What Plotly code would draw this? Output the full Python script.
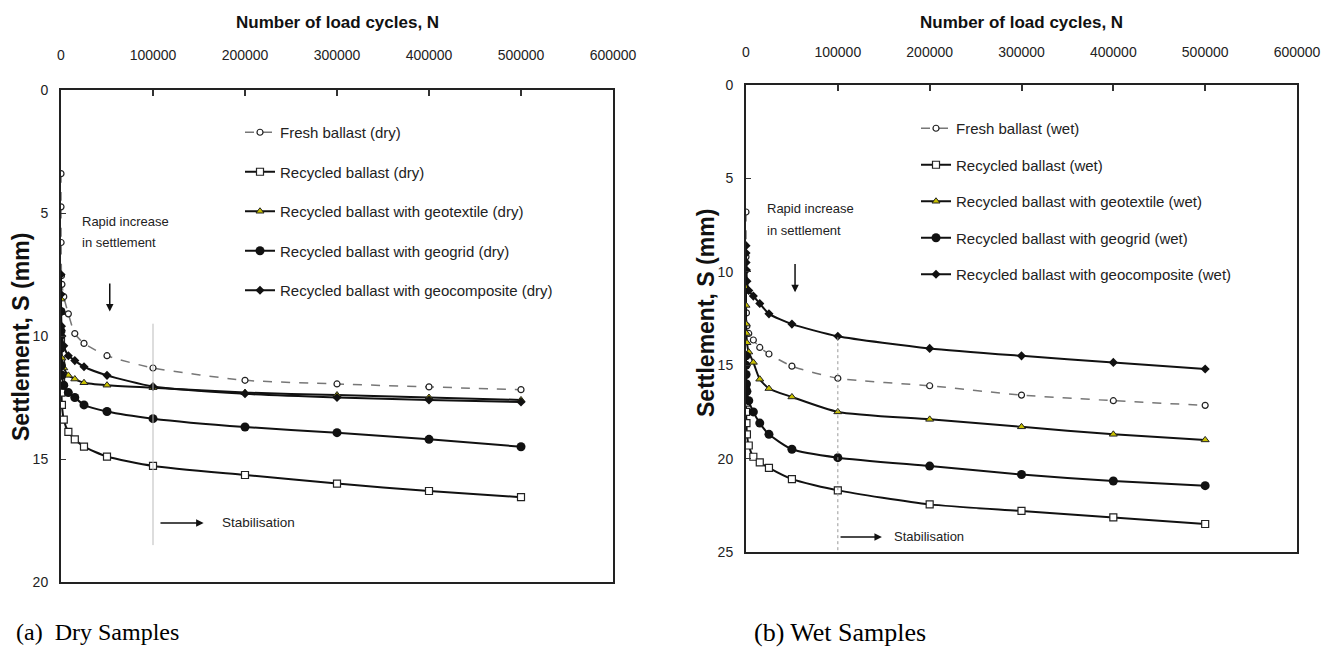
import plotly.graph_objects as go

W, H = 1338, 658

cycles = [1, 10, 100, 500, 1000, 3000, 8000, 15000, 25000, 50000,
          100000, 200000, 300000, 400000, 500000]

dry_names = ["Fresh ballast (dry)", "Recycled ballast (dry)",
             "Recycled ballast with geotextile (dry)",
             "Recycled ballast with geogrid (dry)",
             "Recycled ballast with geocomposite (dry)"]
wet_names = ["Fresh ballast (wet)", "Recycled ballast (wet)",
             "Recycled ballast with geotextile (wet)",
             "Recycled ballast with geogrid (wet)",
             "Recycled ballast with geocomposite (wet)"]

fresh_dry = [3.4, 4.75, 6.2, 7.55, 7.9, 8.4, 9.1, 9.9, 10.3, 10.8, 11.3, 11.8, 11.95, 12.07, 12.18]
recycled_dry = [10.2, 11.0, 11.8, 12.3, 12.8, 13.4, 13.9, 14.2, 14.5, 14.9, 15.28, 15.65, 16.0, 16.3, 16.55]
geotextile_dry = [8.5, 9.05, 9.7, 10.3, 10.9, 11.3, 11.6, 11.75, 11.9, 12.0, 12.1, 12.3, 12.4, 12.5, 12.6]
geogrid_dry = [9.0, 9.8, 10.5, 11.2, 11.6, 12.0, 12.3, 12.5, 12.8, 13.07, 13.36, 13.7, 13.93, 14.2, 14.5]
geocomposite_dry = [7.5, 8.3, 9.0, 9.6, 10.0, 10.4, 10.8, 11.0, 11.25, 11.6, 12.05, 12.35, 12.5, 12.6, 12.68]

fresh_wet = [6.8, 9.2, 11.0, 12.2, 12.9, 13.3, 13.65, 14.05, 14.4, 15.05, 15.7, 16.1, 16.6, 16.9, 17.15]
recycled_wet = [16.2, 17.0, 17.5, 18.1, 18.7, 19.3, 19.9, 20.2, 20.5, 21.1, 21.7, 22.45, 22.8, 23.15, 23.5]
geotextile_wet = [10.8, 11.8, 12.8, 13.3, 13.8, 14.3, 14.85, 15.75, 16.25, 16.7, 17.5, 17.9, 18.3, 18.7, 19.0]
geogrid_wet = [14.5, 15.0, 15.5, 16.0, 16.4, 16.9, 17.5, 18.1, 18.7, 19.5, 19.95, 20.4, 20.85, 21.2, 21.45]
geocomposite_wet = [8.6, 9.0, 9.5, 9.9, 10.5, 11.0, 11.3, 11.7, 12.25, 12.8, 13.45, 14.1, 14.5, 14.85, 15.2]

x_ticks = [0, 100000, 200000, 300000, 400000, 500000, 600000]
y_ticks_dry = [0, 5, 10, 15, 20]
y_ticks_wet = [0, 5, 10, 15, 20, 25]

FONT = "Liberation Sans, Arial, sans-serif"
SERIF = "Liberation Serif, Times New Roman, serif"


def px(x):
    return x / W


def py(y):
    return 1 - y / H


styles = [
    dict(line=dict(color="#777777", width=1.5, dash="dash"),
         marker=dict(symbol="circle", size=6, color="white", line=dict(color="#222", width=1.2))),
    dict(line=dict(color="#111111", width=2),
         marker=dict(symbol="square", size=7, color="white", line=dict(color="#222", width=1.2))),
    dict(line=dict(color="#111111", width=2),
         marker=dict(symbol="triangle-up", size=7, color="#c8c000", line=dict(color="#222", width=1))),
    dict(line=dict(color="#111111", width=2),
         marker=dict(symbol="circle", size=9, color="#111111")),
    dict(line=dict(color="#111111", width=2),
         marker=dict(symbol="diamond", size=7, color="#111111")),
]

fig = go.Figure()

dry_series = [fresh_dry, recycled_dry, geotextile_dry, geogrid_dry, geocomposite_dry]
wet_series = [fresh_wet, recycled_wet, geotextile_wet, geogrid_wet, geocomposite_wet]

for i, (name, vals) in enumerate(zip(dry_names, dry_series)):
    fig.add_trace(go.Scatter(
        x=cycles, y=vals, name=name, mode="lines+markers",
        line=dict(shape="spline", smoothing=0.6, **styles[i]["line"]),
        marker=styles[i]["marker"], xaxis="x", yaxis="y",
        legend="legend", legendgroup="d%d" % i))

for i, (name, vals) in enumerate(zip(wet_names, wet_series)):
    fig.add_trace(go.Scatter(
        x=cycles, y=vals, name=name, mode="lines+markers",
        line=dict(shape="spline", smoothing=0.6, **styles[i]["line"]),
        marker=styles[i]["marker"], xaxis="x2", yaxis="y2",
        legend="legend2", legendgroup="w%d" % i))

common_x = dict(range=[0, 600000], side="top", tickvals=x_ticks, tickformat="d",
                ticks="inside", ticklen=6, tickwidth=1.5, tickcolor="#333",
                showline=True, linecolor="#222", linewidth=2, mirror=True,
                showgrid=False, zeroline=False, automargin=False,
                tickfont=dict(family=FONT, size=14, color="#222"))
common_y = dict(ticks="inside", ticklen=5, tickwidth=1.2, tickcolor="#333",
                showline=True, linecolor="#222", linewidth=2, mirror=True,
                showgrid=False, zeroline=False, automargin=False,
                tickfont=dict(family=FONT, size=14, color="#222"),
                ticklabelstandoff=8)

fig.update_layout(
    width=W, height=H, autosize=False,
    margin=dict(l=0, r=0, t=0, b=0),
    paper_bgcolor="white", plot_bgcolor="white",
    xaxis=dict(domain=[px(61), px(613)], anchor="y", ticklabelstandoff=22, **common_x),
    yaxis=dict(domain=[py(582), py(90)], anchor="x", range=[20, 0],
               tickvals=y_ticks_dry, **common_y),
    xaxis2=dict(domain=[px(746), px(1297)], anchor="y2", ticklabelstandoff=20, **common_x),
    yaxis2=dict(domain=[py(552), py(85)], anchor="x2", range=[25, 0],
                tickvals=y_ticks_wet, **common_y),
    legend=dict(x=px(240), y=py(116), xanchor="left", yanchor="top",
                bgcolor="rgba(0,0,0,0)", font=dict(family=FONT, size=15, color="#222"),
                tracegroupgap=17, traceorder="grouped", itemwidth=30),
    legend2=dict(x=px(916), y=py(112), xanchor="left", yanchor="top",
                 bgcolor="rgba(0,0,0,0)", font=dict(family=FONT, size=15, color="#222"),
                 tracegroupgap=14, traceorder="grouped", itemwidth=30),
    showlegend=True,
)


def label(text, x, y, size, family=FONT, xanchor="center", angle=0, color="#222"):
    return dict(text=text, x=px(x), y=py(y), xref="paper", yref="paper",
                xanchor=xanchor, yanchor="middle", textangle=angle, showarrow=False,
                font=dict(family=family, size=size, color=color))


ann = []
# axis titles
ann.append(label("<b>Number of load cycles, N</b>", 337, 23, 17, color="#111"))
ann.append(label("<b>Number of load cycles, N</b>", 1021, 22, 17, color="#111"))
ann.append(label("<b>Settlement, S (mm)</b>", 21, 337, 23, angle=-90, color="#111"))
ann.append(label("<b>Settlement, S (mm)</b>", 706, 313, 23, angle=-90, color="#111"))
# rapid increase texts
for (x0, y1, y2) in [(80, 222, 243), (765, 208, 230)]:
    ann.append(label("Rapid increase", x0, y1, 13, xanchor="left"))
    ann.append(label("in settlement", x0, y2, 13, xanchor="left"))
# down arrows
ann.append(dict(x=53000, y=9.0, ax=53000, ay=7.8, xref="x", yref="y", axref="x", ayref="y",
                text="", showarrow=True, arrowhead=2, arrowsize=1, arrowwidth=1.5, arrowcolor="#111"))
ann.append(dict(x=53400, y=11.1, ax=53400, ay=9.5, xref="x2", yref="y2", axref="x2", ayref="y2",
                text="", showarrow=True, arrowhead=2, arrowsize=1, arrowwidth=1.5, arrowcolor="#111"))
# stabilisation arrows
ann.append(dict(x=155000, y=17.6, ax=106500, ay=17.6, xref="x", yref="y", axref="x", ayref="y",
                text="", showarrow=True, arrowhead=2, arrowsize=1, arrowwidth=1.5, arrowcolor="#111"))
ann.append(dict(x=148000, y=24.2, ax=101300, ay=24.2, xref="x2", yref="y2", axref="x2", ayref="y2",
                text="", showarrow=True, arrowhead=2, arrowsize=1, arrowwidth=1.5, arrowcolor="#111"))
ann.append(label("Stabilisation", 220, 522, 13.5, xanchor="left"))
ann.append(label("Stabilisation", 892, 536, 13, xanchor="left"))
# captions
ann.append(label("(a)  Dry Samples", 14, 632, 24, family=SERIF, xanchor="left", color="#000"))
ann.append(label("(b) Wet Samples", 752, 632, 26, family=SERIF, xanchor="left", color="#000"))

fig.update_layout(annotations=ann)

fig.add_shape(type="line", xref="x", yref="y", x0=100000, x1=100000, y0=9.5, y1=18.5,
              line=dict(color="#bbbbbb", width=1))
fig.add_shape(type="line", xref="x2", yref="y2", x0=100000, x1=100000, y0=13.5, y1=25,
              line=dict(color="#999999", width=1, dash="dot"))

fig.write_html("out.html")
